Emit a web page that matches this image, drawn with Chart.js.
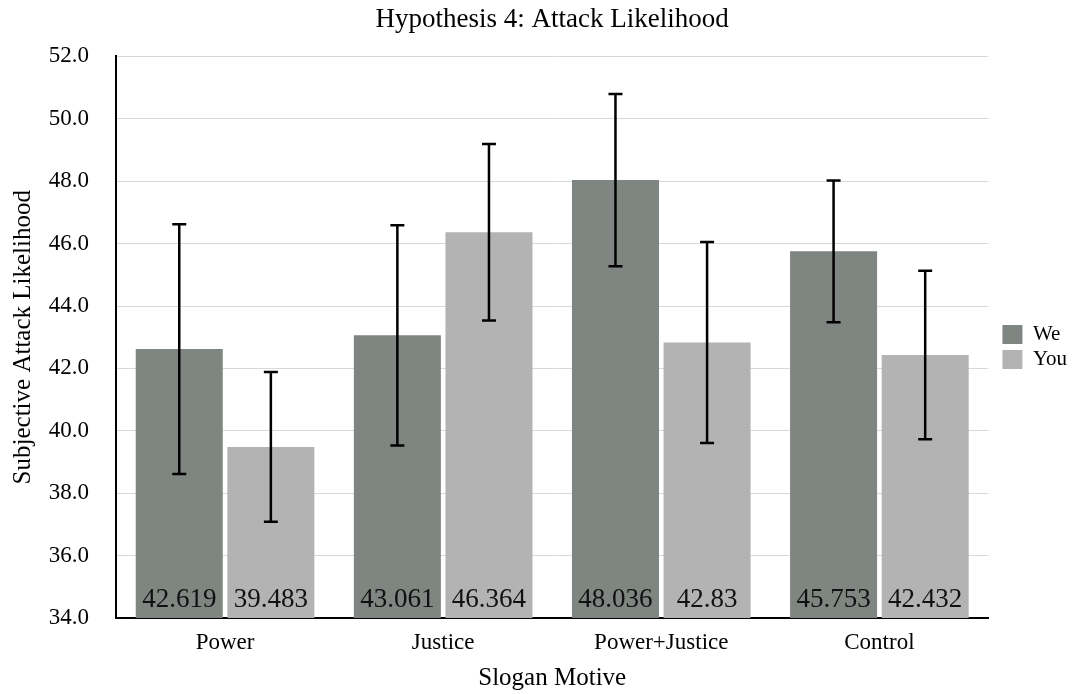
<!DOCTYPE html>
<html>
<head>
<meta charset="utf-8">
<script src="https://cdn.jsdelivr.net/npm/chart.js@4/dist/chart.umd.min.js"></script>
<style>
  html, body { margin: 0; padding: 0; background: #fff; }
  #wrap { width: 1081px; height: 694px; }
</style>
</head>
<body>
<div id="wrap"><canvas id="c" width="1081" height="694"></canvas></div>
<script>
// Slogan motive categories
const motives = ['Power', 'Justice', 'Power+Justice', 'Control'];
// Mean subjective attack likelihood per pronoun condition
const weMeans = [42.619, 43.061, 48.036, 45.753];
const youMeans = [39.483, 46.364, 42.83, 42.432];
// Half-widths of the error bars
const weErr = [4.00, 3.53, 2.76, 2.27];
const youErr = [2.40, 2.83, 3.22, 2.70];
// Y axis tick values
const yTicks = [34, 36, 38, 40, 42, 44, 46, 48, 50, 52];

const SERIF = "'Liberation Serif', 'Times New Roman', Times, serif";
const WE_COLOR = '#7f8580';
const YOU_COLOR = '#b3b3b3';

// Draws error bars and the value label at the foot of every bar
const barExtras = {
  id: 'barExtras',
  afterDatasetsDraw(chart) {
    const ctx = chart.ctx;
    const y = chart.scales.y;
    const errs = [weErr, youErr];
    const vals = [weMeans, youMeans];
    ctx.save();
    chart.data.datasets.forEach((ds, di) => {
      const meta = chart.getDatasetMeta(di);
      meta.data.forEach((bar, i) => {
        const m = vals[di][i];
        const e = errs[di][i];
        const yt = y.getPixelForValue(m + e);
        const yb = y.getPixelForValue(m - e);
        ctx.strokeStyle = '#000';
        ctx.lineWidth = 2.5;
        ctx.beginPath();
        ctx.moveTo(bar.x, yt); ctx.lineTo(bar.x, yb);
        ctx.moveTo(bar.x - 7, yt); ctx.lineTo(bar.x + 7, yt);
        ctx.moveTo(bar.x - 7, yb); ctx.lineTo(bar.x + 7, yb);
        ctx.stroke();
        ctx.fillStyle = '#111';
        ctx.font = '27px ' + SERIF;
        ctx.textAlign = 'center';
        ctx.textBaseline = 'alphabetic';
        ctx.fillText(String(m), bar.x, chart.chartArea.bottom - 11);
      });
    });
    ctx.restore();
  }
};

new Chart(document.getElementById('c'), {
  type: 'bar',
  data: {
    labels: motives,
    datasets: [
      { label: 'We', data: weMeans, backgroundColor: WE_COLOR, borderWidth: 0 },
      { label: 'You', data: youMeans, backgroundColor: YOU_COLOR, borderWidth: 0 }
    ]
  },
  options: {
    responsive: false,
    animation: false,
    devicePixelRatio: 1,
    categoryPercentage: 0.84,
    barPercentage: 0.95,
    layout: { padding: { left: 0, right: 4, top: 0, bottom: 0 } },
    plugins: {
      title: {
        display: true,
        text: 'Hypothesis 4: Attack Likelihood',
        fullSize: false,
        color: '#000',
        font: { family: SERIF, size: 27, weight: 'normal' },
        padding: { top: 4, bottom: 20 }
      },
      legend: {
        position: 'right',
        labels: {
          color: '#000',
          font: { family: SERIF, size: 21 },
          boxWidth: 20,
          boxHeight: 19,
          padding: 4
        }
      },
      tooltip: { enabled: false }
    },
    scales: {
      x: {
        afterFit(s) { s.height = 76; },
        grid: { display: false, drawTicks: false },
        border: { color: '#000', width: 2 },
        ticks: { color: '#000', font: { family: SERIF, size: 23 }, padding: 11 },
        title: {
          display: true, text: 'Slogan Motive', color: '#000',
          font: { family: SERIF, size: 25 }, padding: { top: 8, bottom: 1 }
        }
      },
      y: {
        min: 34, max: 52,
        afterFit(s) { s.width = 116; },
        afterBuildTicks(s) { s.ticks = yTicks.map(v => ({ value: v })); },
        grid: { color: '#d9d9d9', lineWidth: 1, drawTicks: false },
        border: { color: '#000', width: 2 },
        ticks: {
          color: '#000', padding: 27,
          font: { family: SERIF, size: 23 },
          callback: v => Number(v).toFixed(1)
        },
        title: {
          display: true, text: 'Subjective Attack Likelihood', color: '#000',
          font: { family: SERIF, size: 25 }, padding: { top: 8, bottom: 0 }
        }
      },
      gap: {
        type: 'linear', position: 'right', display: true,
        afterFit(s) { s.width = 10; },
        grid: { display: false }, border: { display: false }, ticks: { display: false }
      }
    }
  },
  plugins: [barExtras]
});
</script>
</body>
</html>
